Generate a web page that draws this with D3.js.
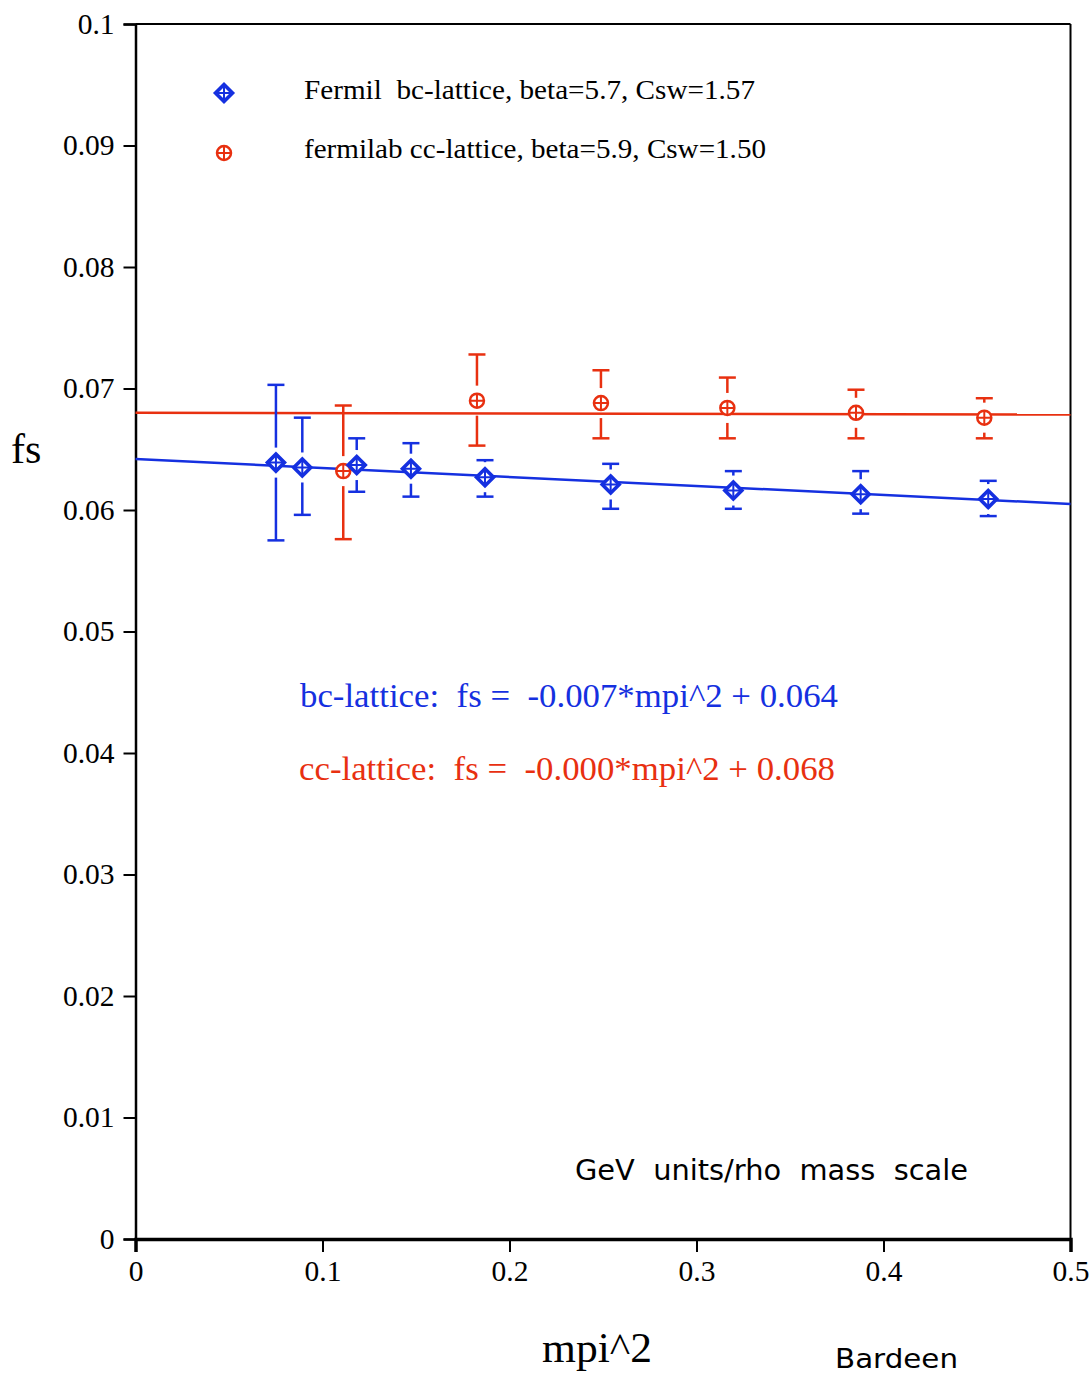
<!DOCTYPE html>
<html>
<head>
<meta charset="utf-8">
<script src="https://cdn.jsdelivr.net/npm/d3@7"></script>
<style>
  html, body { margin: 0; padding: 0; background: #fff; }
  svg { display: block; }
  text { white-space: pre; }
</style>
</head>
<body>
<svg id="chart" width="1092" height="1376"></svg>
<script>
// ---------- data ----------
const xTicks = [0, 0.1, 0.2, 0.3, 0.4, 0.5];
const xTickLabels = ["0", "0.1", "0.2", "0.3", "0.4", "0.5"];
const yTicks = [0, 0.01, 0.02, 0.03, 0.04, 0.05, 0.06, 0.07, 0.08, 0.09, 0.1];
const yTickLabels = ["0", "0.01", "0.02", "0.03", "0.04", "0.05", "0.06", "0.07", "0.08", "0.09", "0.1"];

const blueX  = [0.0751, 0.0892, 0.1183, 0.1473, 0.1869, 0.2541, 0.3197, 0.3878, 0.4560];
const blueY  = [0.0639, 0.0635, 0.0637, 0.0634, 0.0627, 0.0621, 0.0616, 0.0613, 0.0609];
const blueHi = [0.0703, 0.0676, 0.0659, 0.0655, 0.0641, 0.0638, 0.0632, 0.0632, 0.0624];
const blueLo = [0.0575, 0.0596, 0.0615, 0.0611, 0.0611, 0.0601, 0.0601, 0.0597, 0.0595];

const redX  = [0.1111, 0.1826, 0.2489, 0.3165, 0.3853, 0.4539];
const redY  = [0.0632, 0.0690, 0.0688, 0.0684, 0.0680, 0.0676];
const redHi = [0.0686, 0.0728, 0.0715, 0.0709, 0.0699, 0.0692];
const redLo = [0.0576, 0.0653, 0.0659, 0.0659, 0.0659, 0.0659];

// linear fits: [intercept, slope]
const blueFit = [0.0642, -0.0074];
const redFit  = [0.0680, -0.0003];
const fitRange = [0, 0.5];

const legendLabels = ["Fermil  bc-lattice, beta=5.7, Csw=1.57", "fermilab cc-lattice, beta=5.9, Csw=1.50"];
const fitLabels = ["bc-lattice:  fs =  -0.007*mpi^2 + 0.064", "cc-lattice:  fs =  -0.000*mpi^2 + 0.068"];

// ---------- style ----------
const BLUE = "#1530e0";
const RED = "#e83010";
const serif = "'Liberation Serif', 'Times New Roman', serif";
const sans = "'DejaVu Sans', Verdana, sans-serif";

const svg = d3.select("#chart");
const x = d3.scaleLinear().domain([0, 0.5]).range([135.5, 1070.5]);
const y = d3.scaleLinear().domain([0, 0.1]).range([1239, 24]);

// frame (top & right)
svg.append("line").attr("x1", x(0)).attr("x2", x(0.5)).attr("y1", y(0.1)).attr("y2", y(0.1))
  .attr("stroke", "#000").attr("stroke-width", 2);
svg.append("line").attr("x1", x(0.5)).attr("x2", x(0.5)).attr("y1", y(0.1)).attr("y2", y(0))
  .attr("stroke", "#000").attr("stroke-width", 2);

// axes
const yAxis = d3.axisLeft(y).tickValues(yTicks).tickFormat((d, i) => yTickLabels[i]).tickSize(12).tickPadding(9);
const gy = svg.append("g").attr("transform", `translate(${x(0)},0)`).call(yAxis);
gy.select(".domain").attr("stroke-width", 2.5);
gy.selectAll(".tick line").attr("stroke-width", 2);
gy.selectAll("text").attr("font-family", serif).attr("font-size", 29.5).attr("fill", "#000");

const xAxis = d3.axisBottom(x).tickValues(xTicks).tickFormat((d, i) => xTickLabels[i]).tickSize(13).tickPadding(8);
const gx = svg.append("g").attr("transform", `translate(0,${y(0)})`).call(xAxis);
gx.select(".domain").attr("stroke-width", 3.5);
gx.selectAll(".tick line").attr("stroke-width", 2);
gx.selectAll("text").attr("font-family", serif).attr("font-size", 29.5).attr("fill", "#000");

// fit lines
function fitLine(fit, color) {
  const pts = fitRange.map(v => [v, fit[0] + fit[1] * v]);
  svg.append("path")
    .attr("d", d3.line().x(d => x(d[0])).y(d => y(d[1]))(pts))
    .attr("stroke", color).attr("stroke-width", 2.5).attr("fill", "none");
}
fitLine(redFit, RED);
fitLine(blueFit, BLUE);

// error bars (broken around marker)
function errorBars(xs, ys, his, los, color) {
  const g = svg.append("g").attr("stroke", color).attr("stroke-width", 2.5).attr("fill", "none");
  const gap = 15, cap = 8.5;
  xs.forEach((xv, i) => {
    const cx = x(xv), cy = y(ys[i]), top = y(his[i]), bot = y(los[i]);
    if (cy - top > gap) g.append("line").attr("x1", cx).attr("x2", cx).attr("y1", top).attr("y2", cy - gap);
    if (bot - cy > gap) g.append("line").attr("x1", cx).attr("x2", cx).attr("y1", cy + gap).attr("y2", bot);
    g.append("line").attr("x1", cx - cap).attr("x2", cx + cap).attr("y1", top).attr("y2", top);
    g.append("line").attr("x1", cx - cap).attr("x2", cx + cap).attr("y1", bot).attr("y2", bot);
  });
}
errorBars(redX, redY, redHi, redLo, RED);
errorBars(blueX, blueY, blueHi, blueLo, BLUE);

// markers
function diamond(g, cx, cy, color) {
  const r = 8.5;
  g.append("path").attr("d", `M${cx},${cy - r}L${cx + r},${cy}L${cx},${cy + r}L${cx - r},${cy}Z`)
    .attr("fill", "#fff").attr("stroke", color).attr("stroke-width", 3.6).attr("stroke-linejoin", "miter");
  g.append("path").attr("d", `M${cx - r},${cy}H${cx + r}M${cx},${cy - r}V${cy + r}`)
    .attr("stroke", color).attr("stroke-width", 2);
}
function circlePlus(g, cx, cy, color) {
  const r = 7;
  g.append("circle").attr("cx", cx).attr("cy", cy).attr("r", r)
    .attr("fill", "#fff").attr("stroke", color).attr("stroke-width", 2.5);
  g.append("path").attr("d", `M${cx - r},${cy}H${cx + r}M${cx},${cy - r}V${cy + r}`)
    .attr("stroke", color).attr("stroke-width", 2);
}
const mg = svg.append("g");
redX.forEach((xv, i) => circlePlus(mg, x(xv), y(redY[i]), RED));
blueX.forEach((xv, i) => diamond(mg, x(xv), y(blueY[i]), BLUE));

// legend
diamond(svg, 224, 93, BLUE);
circlePlus(svg, 224, 153, RED);
svg.append("text").attr("x", 304).attr("y", 99).text(legendLabels[0])
  .attr("textLength", 451).attr("lengthAdjust", "spacingAndGlyphs")
  .attr("font-family", serif).attr("font-size", 28).attr("fill", "#000");
svg.append("text").attr("x", 304).attr("y", 158).text(legendLabels[1])
  .attr("textLength", 462).attr("lengthAdjust", "spacingAndGlyphs")
  .attr("font-family", serif).attr("font-size", 28).attr("fill", "#000");

// fit annotations
svg.append("text").attr("x", 300).attr("y", 707).text(fitLabels[0])
  .attr("textLength", 538).attr("lengthAdjust", "spacingAndGlyphs")
  .attr("font-family", serif).attr("font-size", 34).attr("fill", BLUE);
svg.append("text").attr("x", 299).attr("y", 780).text(fitLabels[1])
  .attr("textLength", 536).attr("lengthAdjust", "spacingAndGlyphs")
  .attr("font-family", serif).attr("font-size", 34).attr("fill", RED);

// other labels
svg.append("text").attr("x", 575).attr("y", 1180).text("GeV  units/rho  mass  scale")
  .attr("textLength", 393).attr("lengthAdjust", "spacingAndGlyphs")
  .attr("font-family", sans).attr("font-size", 28).attr("fill", "#000");
svg.append("text").attr("x", 11).attr("y", 463).text("fs")
  .attr("font-family", serif).attr("font-size", 42).attr("fill", "#000");
svg.append("text").attr("x", 542).attr("y", 1362).text("mpi^2")
  .attr("textLength", 110).attr("lengthAdjust", "spacingAndGlyphs")
  .attr("font-family", serif).attr("font-size", 43).attr("fill", "#000");
svg.append("text").attr("x", 835).attr("y", 1368).text("Bardeen")
  .attr("textLength", 123).attr("lengthAdjust", "spacingAndGlyphs")
  .attr("font-family", sans).attr("font-size", 27).attr("fill", "#000");
</script>
</body>
</html>
